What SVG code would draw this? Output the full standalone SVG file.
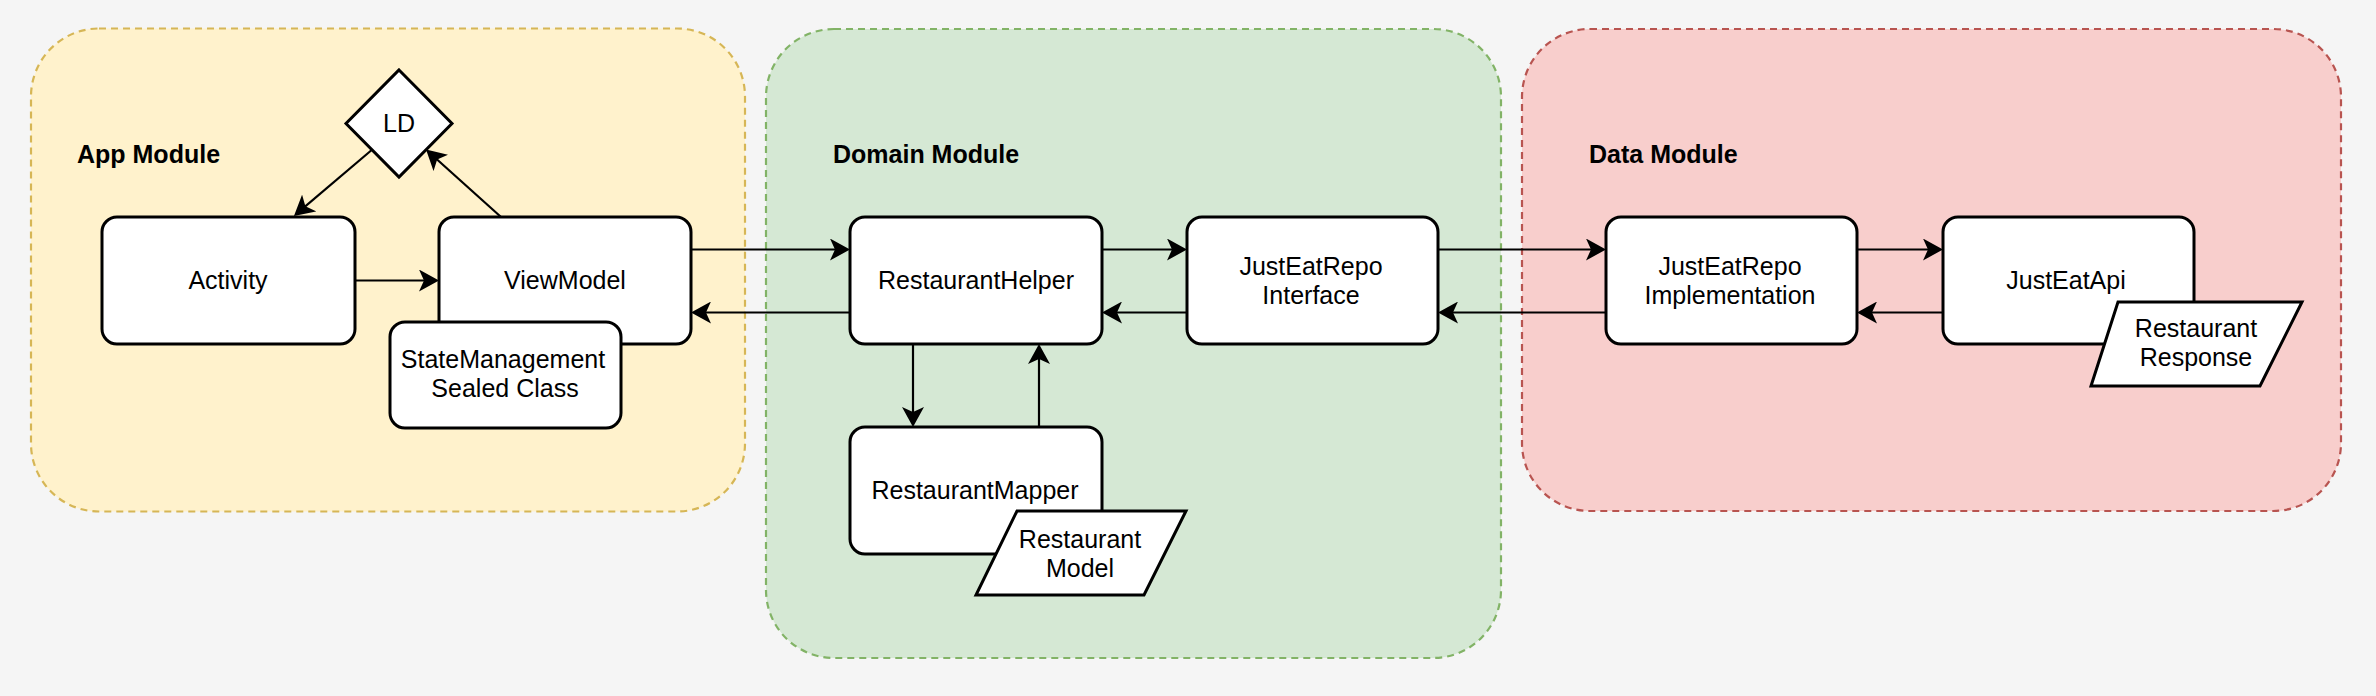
<svg xmlns="http://www.w3.org/2000/svg" width="2376" height="696" viewBox="0 0 2376 696">
<style>
.bg{fill:#f5f5f5}
.ct{stroke-width:2.2;stroke-dasharray:7 5}
.node{fill:#ffffff;stroke:#000000;stroke-width:3}
.t{font-family:"Liberation Sans",Arial,Helvetica,sans-serif;font-size:25px;fill:#000000;text-anchor:middle}
.h{font-family:"Liberation Sans",Arial,Helvetica,sans-serif;font-size:25px;font-weight:bold;fill:#000000}
.edge{fill:none;stroke:#000000;stroke-width:2.2;marker-end:url(#arr)}
</style>
<defs>
<marker id="arr" markerUnits="userSpaceOnUse" markerWidth="22" markerHeight="22" viewBox="0 0 22 22" refX="16" refY="11" orient="auto">
<path d="M20,11 L0,0 L5,11 L0,22 Z" fill="#000000"/>
</marker>
</defs>
<rect class="bg" x="0" y="0" width="2376" height="696"/>
<g id="app-module">
<rect class="ct" x="31" y="28.5" width="714" height="483" rx="68" fill="#fff2cc" stroke="#d6b656"/>
<text class="h" x="77" y="163">App Module</text>
</g>
<g id="domain-module">
<rect class="ct" x="766" y="29" width="735" height="629" rx="68" fill="#d5e8d4" stroke="#82b366"/>
<text class="h" x="833" y="163">Domain Module</text>
</g>
<g id="data-module">
<rect class="ct" x="1522" y="29" width="819" height="482" rx="68" fill="#f8cecc" stroke="#b85450"/>
<text class="h" x="1589" y="163">Data Module</text>
</g>
<g id="connectors">
<path class="edge" d="M371.7,150 L297,213.4"/>
<path class="edge" d="M501,217 L429,152.2"/>
<path class="edge" d="M355,280.5 L435,280.5"/>
<path class="edge" d="M691,249.5 L846,249.5"/>
<path class="edge" d="M850,312.5 L695,312.5"/>
<path class="edge" d="M1102,249.5 L1183,249.5"/>
<path class="edge" d="M1187,312.5 L1106,312.5"/>
<path class="edge" d="M1438,249.5 L1602,249.5"/>
<path class="edge" d="M1606,312.5 L1442,312.5"/>
<path class="edge" d="M1857,249.5 L1939,249.5"/>
<path class="edge" d="M1943,312.5 L1861,312.5"/>
<path class="edge" d="M913,344 L913,423"/>
<path class="edge" d="M1039,427 L1039,348"/>
</g>
<g id="ld">
<polygon class="node" points="399,70 452,123.5 399,177 346,123.5"/>
<text class="t" x="399" y="132">LD</text>
</g>
<g id="activity">
<rect class="node" x="102" y="217" width="253" height="127" rx="15"/>
<text class="t" x="228" y="289">Activity</text>
</g>
<g id="viewmodel">
<rect class="node" x="439" y="217" width="252" height="127" rx="15"/>
<text class="t" x="565" y="289">ViewModel</text>
</g>
<g id="statemanagement">
<rect class="node" x="390" y="322" width="231" height="106" rx="15"/>
<text class="t" x="503" y="368">StateManagement</text>
<text class="t" x="505" y="397">Sealed Class</text>
</g>
<g id="restauranthelper">
<rect class="node" x="850" y="217" width="252" height="127" rx="15"/>
<text class="t" x="976" y="289">RestaurantHelper</text>
</g>
<g id="justeatrepo-interface">
<rect class="node" x="1187" y="217" width="251" height="127" rx="15"/>
<text class="t" x="1311" y="275">JustEatRepo</text>
<text class="t" x="1311" y="304">Interface</text>
</g>
<g id="restaurantmapper">
<rect class="node" x="850" y="427" width="252" height="127" rx="15"/>
<text class="t" x="975" y="499">RestaurantMapper</text>
</g>
<g id="restaurant-model">
<polygon class="node" points="1017,511 1186,511 1144,595 976,595"/>
<text class="t" x="1080" y="548">Restaurant</text>
<text class="t" x="1080" y="577">Model</text>
</g>
<g id="justeatrepo-implementation">
<rect class="node" x="1606" y="217" width="251" height="127" rx="15"/>
<text class="t" x="1730" y="275">JustEatRepo</text>
<text class="t" x="1730" y="304">Implementation</text>
</g>
<g id="justeatapi">
<rect class="node" x="1943" y="217" width="251" height="127" rx="15"/>
<text class="t" x="2066" y="289">JustEatApi</text>
</g>
<g id="restaurant-response">
<polygon class="node" points="2118,302 2302,302 2260,386 2091,386"/>
<text class="t" x="2196" y="337">Restaurant</text>
<text class="t" x="2196" y="366">Response</text>
</g>
</svg>
